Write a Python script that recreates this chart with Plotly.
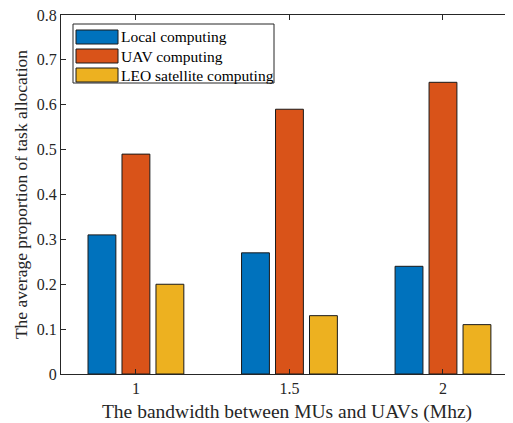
import plotly.graph_objects as go

categories = [1, 1.5, 2]
tick_labels = ["1", "1.5", "2"]
series_names = ["Local computing", "UAV computing", "LEO satellite computing"]
local_vals = [0.31, 0.27, 0.24]
uav_vals = [0.49, 0.59, 0.65]
leo_vals = [0.20, 0.13, 0.11]
colors = ["#0072BD", "#D95319", "#EDB120"]
yticks = [0, 0.1, 0.2, 0.3, 0.4, 0.5, 0.6, 0.7, 0.8]

FONT = "Liberation Serif, Times New Roman, serif"

fig = go.Figure()
for name, vals, c in zip(series_names, [local_vals, uav_vals, leo_vals], colors):
    fig.add_trace(go.Bar(x=categories, y=vals, name=name, marker=dict(color=c, line=dict(color="#1a1a1a", width=1)),
                         showlegend=False))

OFF = 8  # page body margin
W, H = 505, 415
ml, mr, mt, mb = 53, 0, 7, 49
pw, ph = W - ml - mr, H - mt - mb

def px_x(x):
    return (x - OFF - ml) / pw

def px_y(y):
    return 1 - (y - OFF - mt) / ph

shapes = []
annotations = []
# legend box
shapes.append(dict(type="rect", xref="paper", yref="paper", x0=px_x(73), x1=px_x(274), y0=px_y(83), y1=px_y(24),
                   line=dict(color="#262626", width=1), fillcolor="white"))
for i, (name, c) in enumerate(zip(series_names, colors)):
    cy = 37 + i * 19
    shapes.append(dict(type="rect", xref="paper", yref="paper", x0=px_x(76), x1=px_x(118), y0=px_y(cy + 7), y1=px_y(cy - 7),
                       line=dict(color="#1a1a1a", width=1), fillcolor=c))
    annotations.append(dict(text=name, xref="paper", yref="paper", x=px_x(119), y=px_y(cy), xanchor="left", yanchor="middle",
                            showarrow=False, font=dict(family=FONT, size=15.5, color="black")))

fig.update_layout(
    width=W, height=H,
    margin=dict(l=ml, r=mr, t=mt, b=mb),
    paper_bgcolor="white", plot_bgcolor="white",
    barmode="group", bargap=0.336, bargroupgap=0.18,
    font=dict(family=FONT, size=16, color="#262626"),
    shapes=shapes, annotations=annotations,
    xaxis=dict(range=[0.756, 2.228], tickvals=categories, ticktext=tick_labels, ticks="inside", ticklen=5,
               tickcolor="#262626", showline=True, linecolor="#262626", linewidth=1, mirror="ticks",
               showgrid=False, zeroline=False, automargin=False, ticklabeloverflow="allow",
               title=dict(text="The bandwidth between MUs and UAVs (Mhz)", font=dict(size=19.5, color="#262626"), standoff=8),
               tickfont=dict(size=16, color="#262626")),
    yaxis=dict(range=[0, 0.8], tickvals=yticks, ticktext=[str(v) if v != 0 else "0" for v in yticks],
               ticks="inside", ticklen=5, tickcolor="#262626", showline=True, linecolor="#262626", linewidth=1,
               mirror=False, showgrid=False, zeroline=False, automargin=False, ticklabeloverflow="allow",
               title=dict(text="The average proportion of task allocation", font=dict(size=17.5, color="#262626"), standoff=4),
               tickfont=dict(size=16, color="#262626")),
)

fig.write_html("out.html")
